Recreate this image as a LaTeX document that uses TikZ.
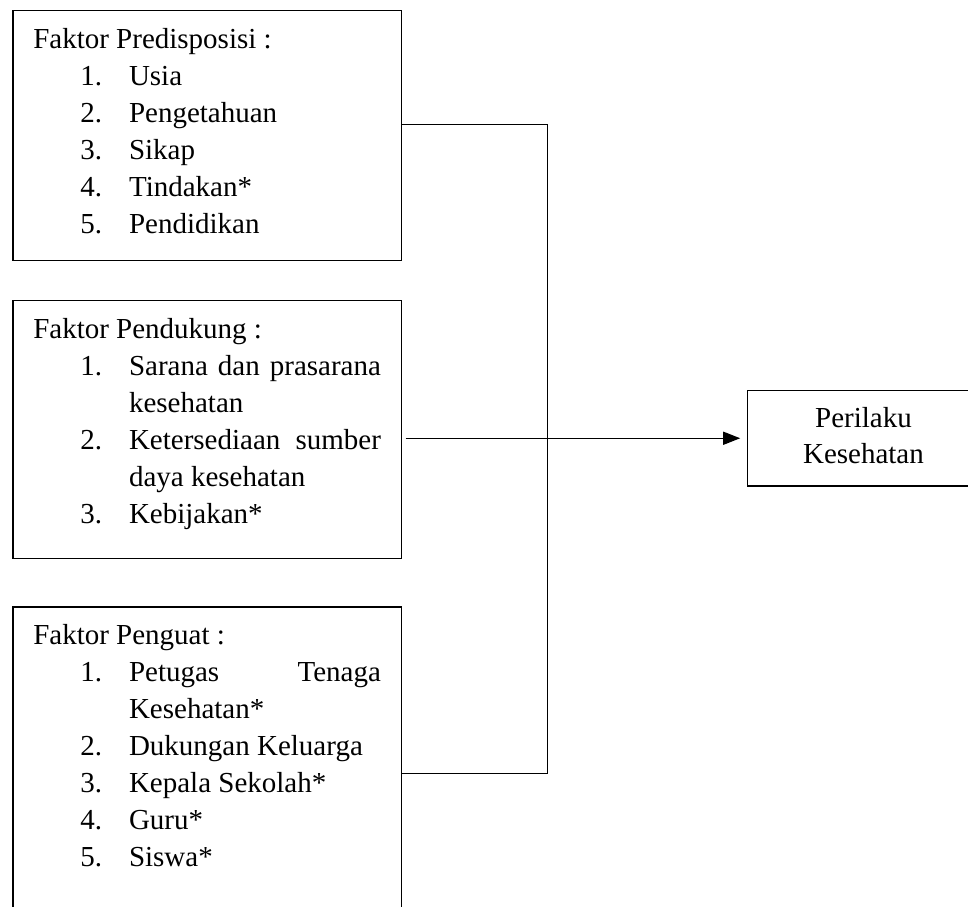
\documentclass[tikz,border=0pt]{standalone}
\usepackage{fontspec}
\setmainfont{Liberation Serif}
\usetikzlibrary{arrows.meta}
\hbadness=10000
\newcommand\fitem[2]{\noindent\hangindent=95.8pt\hangafter=1\makebox[95.8pt][l]{\hspace{47pt}#1}#2\strut\par}
\newcommand\fbody[2]{\parbox[t][#1][t]{347.7pt}{\fontsize{29pt}{37.1pt}\selectfont\hyphenpenalty=10000\strut #2}}
\begin{document}
\begin{tikzpicture}[x=1pt,y=1pt,
  box/.style={draw, line width=1.5pt, rectangle, inner xsep=20.5pt, inner ysep=11.3pt, anchor=north west},
  outbox/.style={draw, line width=1.5pt, rectangle, inner xsep=0pt, inner ysep=11.5pt, anchor=north west},
  conn/.style={line width=1.5pt}]
\useasboundingbox (0,0) rectangle (968,906);
\clip (0,0) rectangle (968,906);

\node[box] (b1) at (12,896) {\fbody{227.4pt}{Faktor Predisposisi :\par
  \fitem{1.}{Usia}
  \fitem{2.}{Pengetahuan}
  \fitem{3.}{Sikap}
  \fitem{4.}{Tindakan*}
  \fitem{5.}{Pendidikan}}};

\node[box] (b2) at (12,606) {\fbody{234.9pt}{Faktor Pendukung :\par
  \fitem{1.}{Sarana dan prasarana\linebreak kesehatan}
  \fitem{2.}{Ketersediaan sumber\linebreak daya kesehatan}
  \fitem{3.}{Kebijakan*}}};

\node[box] (b3) at (12,300) {\fbody{320pt}{Faktor Penguat :\par
  \fitem{1.}{Petugas Tenaga\linebreak Kesehatan*}
  \fitem{2.}{Dukungan Keluarga}
  \fitem{3.}{Kepala Sekolah*}
  \fitem{4.}{Guru*}
  \fitem{5.}{Siswa*}}};

\node[outbox] (out) at (746.7,516) {\parbox[t][72pt][t]{232pt}{\fontsize{29pt}{36pt}\selectfont\centering\strut Perilaku\\Kesehatan}};

\coordinate (jt) at (547.3,781.7);
\coordinate (jb) at (547.3,132.5);
\draw[conn] (b1.east |- jt) -- (jt) -- (jb) -- (b3.east |- jb);
\draw[conn, -{Triangle[length=17pt,width=13pt]}, shorten <=3.5pt, shorten >=6.5pt]
  (b2.east |- out.west) -- (out.west);
\end{tikzpicture}
\end{document}
